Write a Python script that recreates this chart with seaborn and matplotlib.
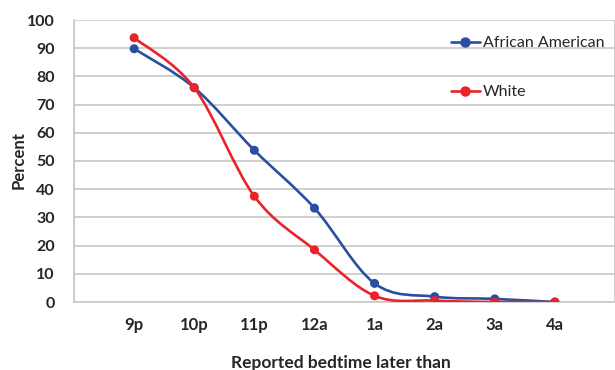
import numpy as np
import pandas as pd
import matplotlib
matplotlib.use("Agg")
import matplotlib.pyplot as plt
from matplotlib.path import Path
from matplotlib.patches import PathPatch
from matplotlib.lines import Line2D
import seaborn as sns

categories = ["9p", "10p", "11p", "12a", "1a", "2a", "3a", "4a"]
african_american = [89.8, 76.0, 53.8, 33.3, 6.6, 1.9, 1.1, 0.0]
white = [93.7, 76.0, 37.5, 18.5, 2.2, 0.5, 0.0, 0.0]
yticks = [0, 10, 20, 30, 40, 50, 60, 70, 80, 90, 100]

BLUE = "#2B4EA2"
RED = "#EC2229"
GRID = "#C8C8C8"

sns.set_theme(style="white")
plt.rcParams["font.family"] = ["Lato", "DejaVu Sans"]

fig = plt.figure(figsize=(6.15, 3.7), dpi=100)
ax = fig.add_axes([74 / 615, 68 / 370, (615 - 74) / 615, 282 / 370])

xpos = np.arange(1, len(categories) + 1)
df = pd.DataFrame({
    "x": np.concatenate([xpos, xpos]),
    "Percent": african_american + white,
    "group": ["African American"] * len(xpos) + ["White"] * len(xpos),
})


def smooth_path(xs, ys):
    pts = np.column_stack([xs, ys]).astype(float)
    n = len(pts)
    verts = [pts[0]]
    codes = [Path.MOVETO]
    for i in range(n - 1):
        p0 = pts[i - 1] if i > 0 else pts[i]
        p1 = pts[i]
        p2 = pts[i + 1]
        p3 = pts[i + 2] if i + 2 < n else pts[i + 1]
        c1 = p1 + (p2 - p0) / 6.0
        c2 = p2 - (p3 - p1) / 6.0
        verts += [c1, c2, p2]
        codes += [Path.CURVE4] * 3
    return Path(verts, codes)


for vals, col in [(african_american, BLUE), (white, RED)]:
    patch = PathPatch(smooth_path(xpos, vals), facecolor="none", edgecolor=col,
                      lw=1.9, zorder=3, capstyle="round", joinstyle="round")
    ax.add_patch(patch)

sns.scatterplot(data=df, x="x", y="Percent", hue="group",
                palette={"African American": BLUE, "White": RED},
                s=42, edgecolor="none", zorder=4, legend=False, ax=ax)

ax.set_xlim(0, (615 - 74) / 61.5)
ax.set_ylim(0, 100)
ax.set_xticks(xpos)
ax.set_xticklabels(categories, fontsize=12, fontweight="bold")
ax.set_yticks(yticks)
ax.set_yticklabels([str(v) for v in yticks], fontsize=11.5, fontweight="bold")
ax.set_xticks(np.arange(0, 10), minor=True)
ax.grid(False)
ax.grid(True, which="minor", axis="x", color=GRID, lw=1.2)
ax.grid(True, which="major", axis="y", color=GRID, lw=1.2)
ax.tick_params(axis="x", which="both", length=0, pad=11)
ax.tick_params(axis="y", length=0, pad=14)
for s in ["top", "right"]:
    ax.spines[s].set_visible(False)
for s in ["left", "bottom"]:
    ax.spines[s].set_color(GRID)
    ax.spines[s].set_linewidth(1.2)

ax.set_xlabel("Reported bedtime later than", fontsize=12.5, fontweight="bold")
ax.set_ylabel("Percent", fontsize=12, fontweight="bold")
ax.xaxis.set_label_coords((341 - 74) / 541, -(355 - 302) / 282)
ax.yaxis.set_label_coords(-(74 - 27) / 541, (302 - 160) / 282)

handles = [
    Line2D([0], [0], color=BLUE, lw=1.9, marker="o", markersize=6.5),
    Line2D([0], [0], color=RED, lw=1.9, marker="o", markersize=6.5),
]
leg = ax.legend(handles, ["African American", "White"], loc="upper left",
                bbox_to_anchor=((451 - 74) / 541, (302 - 36) / 282),
                frameon=False, fontsize=11.5, handlelength=1.8, handletextpad=0.2,
                labelspacing=2.2, borderaxespad=0, borderpad=0)

fig.savefig("out.png", dpi=100)
